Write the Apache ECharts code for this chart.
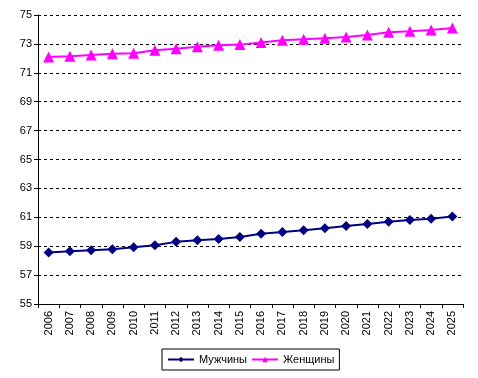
<!DOCTYPE html>
<html>
<head>
<meta charset="utf-8">
<script src="https://cdn.jsdelivr.net/npm/echarts@6/dist/echarts.min.js"></script>
<style>
  html, body { margin: 0; padding: 0; background: #fff; }
  #chart { width: 478px; height: 378px; }
</style>
</head>
<body>
<div id="chart"></div>
<script>
const years = ['2006', '2007', '2008', '2009', '2010', '2011', '2012', '2013', '2014', '2015',
  '2016', '2017', '2018', '2019', '2020', '2021', '2022', '2023', '2024', '2025'];
const men = [58.56, 58.65, 58.72, 58.79, 58.93, 59.07, 59.3, 59.42, 59.49, 59.63,
  59.86, 59.99, 60.1, 60.24, 60.4, 60.54, 60.7, 60.82, 60.9, 61.06];
const women = [72.1, 72.14, 72.24, 72.31, 72.35, 72.56, 72.67, 72.81, 72.9, 72.95,
  73.1, 73.25, 73.32, 73.39, 73.48, 73.62, 73.8, 73.87, 73.97, 74.1];

const chart = echarts.init(document.getElementById('chart'));
const font = 'Arial, "Liberation Sans", sans-serif';

chart.setOption({
  animation: false,
  textStyle: { fontFamily: font },
  grid: { left: 38, right: 15, top: 15, bottom: 74 },
  legend: {
    bottom: 8,
    left: 162,
    padding: [5, 5],
    borderColor: '#000',
    borderWidth: 1,
    itemWidth: 26,
    itemHeight: 7,
    itemGap: 4,
    textStyle: { fontSize: 11, color: '#000', fontFamily: font },
    data: ['Мужчины', 'Женщины']
  },
  xAxis: {
    type: 'category',
    data: years,
    boundaryGap: true,
    axisLine: { lineStyle: { color: '#000', width: 1 } },
    axisTick: { show: true, length: 4, lineStyle: { color: '#000' } },
    axisLabel: { rotate: 90, fontSize: 11, color: '#000', margin: 7, fontFamily: font }
  },
  yAxis: {
    type: 'value',
    min: 55,
    max: 75,
    interval: 2,
    axisLine: { show: true, lineStyle: { color: '#000', width: 1 } },
    axisTick: { show: true, length: 4, lineStyle: { color: '#000' } },
    axisLabel: { fontSize: 11, color: '#000', margin: 6, fontFamily: font },
    splitLine: { show: true, lineStyle: { color: '#000', type: [3, 3], width: 1 } }
  },
  series: [
    {
      name: 'Мужчины',
      type: 'line',
      data: men,
      symbol: 'diamond',
      symbolSize: 10,
      color: '#000080',
      lineStyle: { width: 2, color: '#000080' },
      itemStyle: { color: '#000080' }
    },
    {
      name: 'Женщины',
      type: 'line',
      data: women,
      symbol: 'triangle',
      symbolSize: 11,
      color: '#ff00ff',
      lineStyle: { width: 2, color: '#ff00ff' },
      itemStyle: { color: '#ff00ff' }
    }
  ]
});
</script>
</body>
</html>
